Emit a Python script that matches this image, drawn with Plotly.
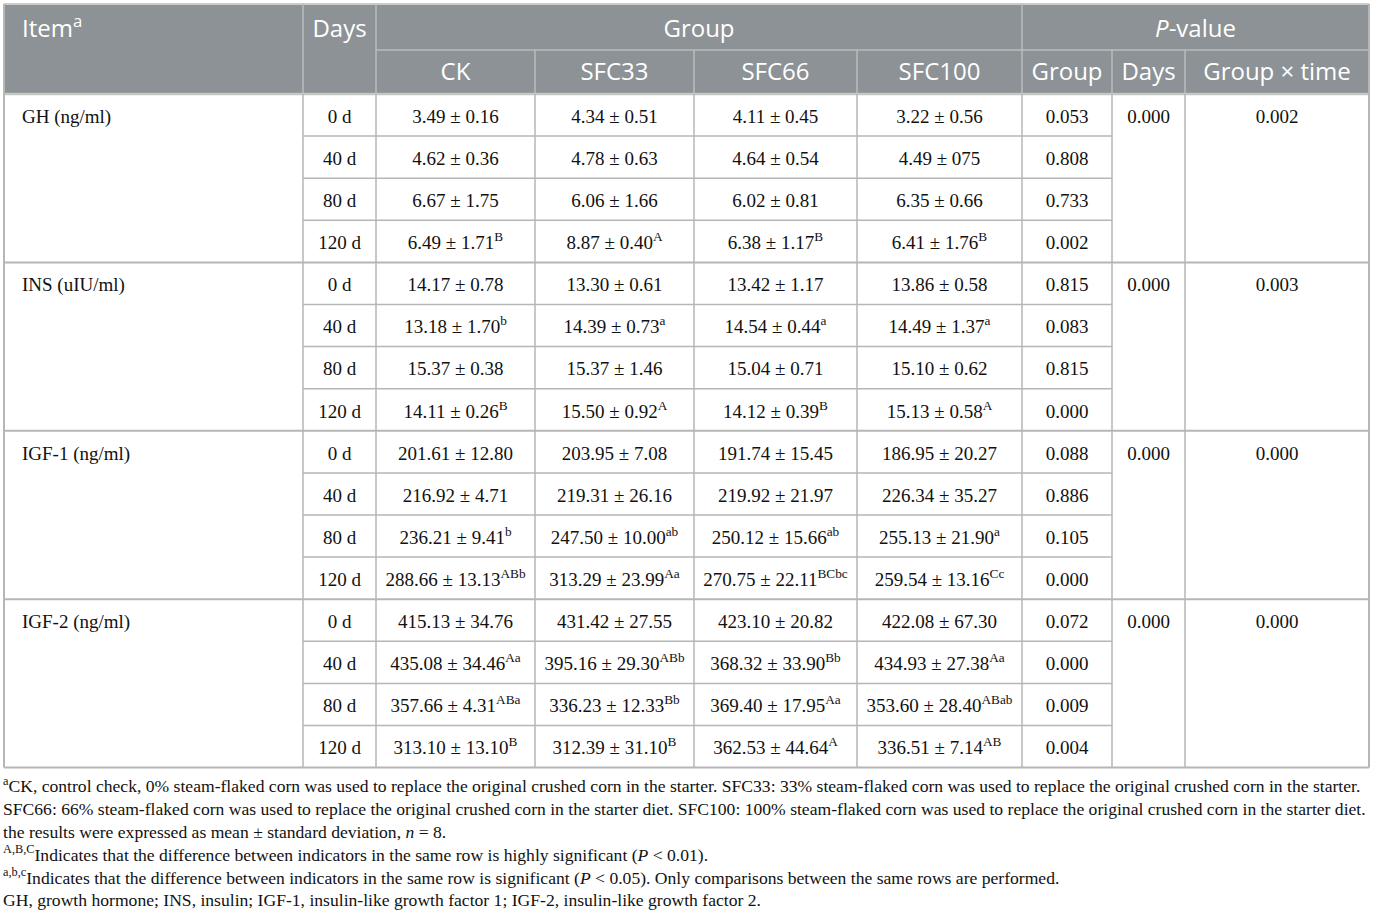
import plotly.graph_objects as go

# ---- table content ----
items = ["GH (ng/ml)", "INS (uIU/ml)", "IGF-1 (ng/ml)", "IGF-2 (ng/ml)"]
days = ["0 d", "40 d", "80 d", "120 d"]
group_names = ["CK", "SFC33", "SFC66", "SFC100"]
p_names = ["Group", "Days", "Group × time"]

ck = ["3.49 ± 0.16", "4.62 ± 0.36", "6.67 ± 1.75", "6.49 ± 1.71",
      "14.17 ± 0.78", "13.18 ± 1.70", "15.37 ± 0.38", "14.11 ± 0.26",
      "201.61 ± 12.80", "216.92 ± 4.71", "236.21 ± 9.41", "288.66 ± 13.13",
      "415.13 ± 34.76", "435.08 ± 34.46", "357.66 ± 4.31", "313.10 ± 13.10"]
ck_sig = ["", "", "", "B", "", "b", "", "B", "", "", "b", "ABb", "", "Aa", "ABa", "B"]

sfc33 = ["4.34 ± 0.51", "4.78 ± 0.63", "6.06 ± 1.66", "8.87 ± 0.40",
         "13.30 ± 0.61", "14.39 ± 0.73", "15.37 ± 1.46", "15.50 ± 0.92",
         "203.95 ± 7.08", "219.31 ± 26.16", "247.50 ± 10.00", "313.29 ± 23.99",
         "431.42 ± 27.55", "395.16 ± 29.30", "336.23 ± 12.33", "312.39 ± 31.10"]
sfc33_sig = ["", "", "", "A", "", "a", "", "A", "", "", "ab", "Aa", "", "ABb", "Bb", "B"]

sfc66 = ["4.11 ± 0.45", "4.64 ± 0.54", "6.02 ± 0.81", "6.38 ± 1.17",
         "13.42 ± 1.17", "14.54 ± 0.44", "15.04 ± 0.71", "14.12 ± 0.39",
         "191.74 ± 15.45", "219.92 ± 21.97", "250.12 ± 15.66", "270.75 ± 22.11",
         "423.10 ± 20.82", "368.32 ± 33.90", "369.40 ± 17.95", "362.53 ± 44.64"]
sfc66_sig = ["", "", "", "B", "", "a", "", "B", "", "", "ab", "BCbc", "", "Bb", "Aa", "A"]

sfc100 = ["3.22 ± 0.56", "4.49 ± 075", "6.35 ± 0.66", "6.41 ± 1.76",
          "13.86 ± 0.58", "14.49 ± 1.37", "15.10 ± 0.62", "15.13 ± 0.58",
          "186.95 ± 20.27", "226.34 ± 35.27", "255.13 ± 21.90", "259.54 ± 13.16",
          "422.08 ± 67.30", "434.93 ± 27.38", "353.60 ± 28.40", "336.51 ± 7.14"]
sfc100_sig = ["", "", "", "B", "", "a", "", "A", "", "", "a", "Cc", "", "Aa", "ABab", "AB"]

p_group = ["0.053", "0.808", "0.733", "0.002",
           "0.815", "0.083", "0.815", "0.000",
           "0.088", "0.886", "0.105", "0.000",
           "0.072", "0.000", "0.009", "0.004"]
p_days = ["0.000", "0.000", "0.000", "0.000"]
p_interaction = ["0.002", "0.003", "0.000", "0.000"]

footnotes = [
    "<sup>a</sup>CK, control check, 0% steam-flaked corn was used to replace the original crushed corn in the starter. "
    "SFC33: 33% steam-flaked corn was used to replace the original crushed corn in the starter.",
    "SFC66: 66% steam-flaked corn was used to replace the original crushed corn in the starter diet. "
    "SFC100: 100% steam-flaked corn was used to replace the original crushed corn in the starter diet.",
    "the results were expressed as mean ± standard deviation, <i>n</i> = 8.",
    "<sup>A,B,C</sup>Indicates that the difference between indicators in the same row is highly significant (<i>P</i> &lt; 0.01).",
    "<sup>a,b,c</sup>Indicates that the difference between indicators in the same row is significant (<i>P</i> &lt; 0.05). "
    "Only comparisons between the same rows are performed.",
    "GH, growth hormone; INS, insulin; IGF-1, insulin-like growth factor 1; IGF-2, insulin-like growth factor 2.",
]

# ---- geometry (pixels) ----
W, H = 1375, 924
col_edges = [4, 303, 376, 535, 694, 857, 1022, 1112, 1185, 1369]
head_top, head_mid, head_bottom = 4, 50, 94
row_h = 42.1
n_sub = len(days)
n_rows = len(items) * n_sub
table_bottom = head_bottom + n_rows * row_h
foot_top = 788
foot_step = 22.8
text_shift = 3  # nudge text down to sit like the reference

HEAD_BG = "#8c9295"
HEAD_LINE = "#b9bdbf"
GRID = "#b6b6b6"
HEAD_FONT = dict(family="Open Sans", size=24, color="white")
BODY_FONT = dict(family="Liberation Serif", size=19, color="#111111")
FOOT_FONT = dict(family="Liberation Serif", size=17.6, color="#111111")

centers = [(col_edges[i] + col_edges[i + 1]) / 2 for i in range(len(col_edges) - 1)]
row_y = [head_bottom + (r + 0.5) * row_h + text_shift for r in range(n_rows)]
head1_y = (head_top + head_mid) / 2 + 4
head2_y = (head_mid + head_bottom) / 2 + 1.5
item_x = col_edges[0] + 18


def with_sup(vals, sigs):
    return [v + ("<sup>%s</sup>" % s if s else "") for v, s in zip(vals, sigs)]


fig = go.Figure()


def text_trace(xs, ys, texts, font, pos="middle center"):
    fig.add_trace(go.Scatter(
        x=xs, y=ys, text=texts, mode="text", textposition=pos,
        textfont=font, hoverinfo="skip", showlegend=False, cliponaxis=False,
    ))


# header
text_trace([item_x], [head1_y], ["Item<sup>a</sup>"], HEAD_FONT, "middle right")
text_trace([centers[1]], [head1_y], ["Days"], HEAD_FONT)
text_trace([(col_edges[2] + col_edges[6]) / 2], [head1_y], ["Group"], HEAD_FONT)
text_trace([(col_edges[6] + col_edges[9]) / 2], [head1_y], ["<i>P</i>-value"], HEAD_FONT)
text_trace(centers[2:], [head2_y] * 7, group_names + p_names, HEAD_FONT)

# body
first_rows = [row_y[g * n_sub] for g in range(len(items))]
text_trace([item_x] * len(items), first_rows, items, BODY_FONT, "middle right")
text_trace([centers[1]] * n_rows, row_y, days * len(items), BODY_FONT)
for ci, (vals, sigs) in enumerate([(ck, ck_sig), (sfc33, sfc33_sig),
                                   (sfc66, sfc66_sig), (sfc100, sfc100_sig)]):
    text_trace([centers[2 + ci]] * n_rows, row_y, with_sup(vals, sigs), BODY_FONT)
text_trace([centers[6]] * n_rows, row_y, p_group, BODY_FONT)
text_trace([centers[7]] * len(items), first_rows, p_days, BODY_FONT)
text_trace([centers[8]] * len(items), first_rows, p_interaction, BODY_FONT)

# footnotes
text_trace([col_edges[0] - 1] * len(footnotes),
           [foot_top + i * foot_step for i in range(len(footnotes))],
           footnotes, FOOT_FONT, "middle right")

# ---- grid ----
def line(x0, y0, x1, y1, color=GRID, width=1.5):
    fig.add_shape(type="line", x0=x0, y0=y0, x1=x1, y1=y1,
                  line=dict(color=color, width=width), layer="below")


fig.add_shape(type="rect", x0=col_edges[0], y0=head_top, x1=col_edges[-1], y1=head_bottom,
              fillcolor=HEAD_BG, line=dict(width=0), layer="below")
line(col_edges[0], head_top, col_edges[-1], head_top, "#c9ccc7", 2)
for x in [col_edges[1], col_edges[2], col_edges[6]]:
    line(x, head_top, x, head_bottom, HEAD_LINE)
for x in [col_edges[3], col_edges[4], col_edges[5], col_edges[7], col_edges[8]]:
    line(x, head_mid, x, head_bottom, HEAD_LINE)
line(col_edges[2], head_mid, col_edges[-1], head_mid, HEAD_LINE)
line(col_edges[0], head_bottom, col_edges[-1], head_bottom, "#c4c7c4", 2.5)

for x in col_edges[1:-1]:
    line(x, head_bottom, x, table_bottom)
for r in range(1, n_rows):
    y = head_bottom + r * row_h
    if r % n_sub == 0:
        line(col_edges[0], y, col_edges[-1], y, GRID, 2)
    else:
        line(col_edges[1], y, col_edges[7], y)
line(col_edges[0], head_top, col_edges[0], table_bottom, GRID, 2)
line(col_edges[-1], head_top, col_edges[-1], table_bottom, GRID, 2)
line(col_edges[0], table_bottom, col_edges[-1], table_bottom, GRID, 2)

fig.update_layout(
    width=W, height=H,
    margin=dict(l=0, r=0, t=0, b=0),
    paper_bgcolor="white", plot_bgcolor="white",
    xaxis=dict(range=[0, W], visible=False, fixedrange=True),
    yaxis=dict(range=[H, 0], visible=False, fixedrange=True),
)

fig.write_html("out.html", config={"displayModeBar": False},
               post_script="document.body.style.margin='0';document.body.style.overflow='hidden';")
